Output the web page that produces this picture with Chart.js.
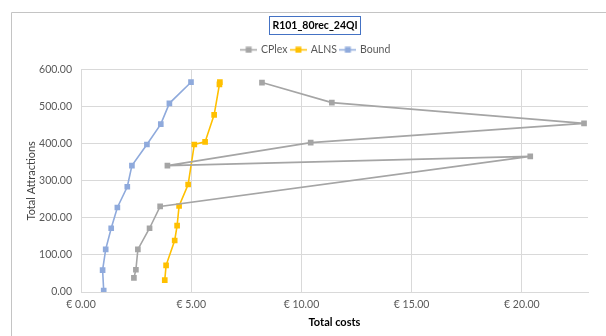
<!DOCTYPE html>
<html>
<head>
<meta charset="utf-8">
<script src="https://cdn.jsdelivr.net/npm/chart.js@4/dist/chart.umd.min.js"></script>
<style>
html,body{margin:0;padding:0;background:#fff;}
#wrap{width:606px;height:336px;position:relative;}
</style>
</head>
<body>
<div id="wrap"><canvas id="c" width="606" height="336"></canvas></div>
<script>
// ---- data ----
const chartTitle = 'R101_80rec_24QI';
const seriesNames = ['CPlex', 'ALNS', 'Bound'];
const cplexCost = [8.21, 11.38, 22.82, 10.42, 3.92, 20.38, 3.59, 3.11, 2.58, 2.49, 2.40];
const cplexAttr = [565, 511, 455, 403, 341, 366, 231, 172, 115, 60, 38];
const alnsCost = [6.30, 6.28, 6.04, 5.63, 5.14, 4.86, 4.45, 4.36, 4.25, 3.86, 3.80];
const alnsAttr = [566, 560, 478, 405, 398, 290, 232, 179, 139, 72, 32];
const boundCost = [4.99, 4.01, 3.62, 2.99, 2.31, 2.10, 1.65, 1.37, 1.12, 0.98, 1.03];
const boundAttr = [566, 509, 453, 398, 341, 284, 228, 172, 115, 59, 4];
const xTickValues = [0, 5, 10, 15, 20];
const yTickValues = [0, 100, 200, 300, 400, 500, 600];

const colors = ['#a5a5a5', '#ffc000', '#8faadc'];
const FONT = 'Lato, "Open Sans", "Liberation Sans", sans-serif';
const TITLE_SIZE = 10.5;

function toPts(xs, ys){ return xs.map((x,i)=>({x:x, y:ys[i]})); }

function legendIcon(color){
  const cv = document.createElement('canvas');
  cv.width = 17; cv.height = 7;
  const g = cv.getContext('2d');
  g.strokeStyle = color; g.lineWidth = 1.5;
  g.beginPath(); g.moveTo(0, 3.5); g.lineTo(17, 3.5); g.stroke();
  g.fillStyle = color; g.fillRect(5.5, 0.5, 6, 6);
  return cv;
}

const allX = [cplexCost, alnsCost, boundCost];
const allY = [cplexAttr, alnsAttr, boundAttr];
const datasets = seriesNames.map((n,i)=>({
  label: n,
  data: toPts(allX[i], allY[i]),
  showLine: true,
  borderColor: colors[i],
  backgroundColor: colors[i],
  borderWidth: 1.6,
  pointStyle: 'rect',
  pointRadius: 4,
  pointHoverRadius: 4,
  pointBorderWidth: 0,
  tension: 0
}));

const TITLE_CX = 315;
const LEGEND_CX = 316;
const TITLE_PAD_TOP = 19;

const borderPlugin = {
  id: 'frame',
  beforeDraw(chart){
    const ctx = chart.ctx;
    ctx.save();
    ctx.fillStyle = '#fff';
    ctx.fillRect(0,0,chart.width,chart.height);
    ctx.strokeStyle = '#c4c4c4';
    ctx.lineWidth = 1;
    ctx.beginPath();
    ctx.moveTo(11.5, chart.height + 2);
    ctx.lineTo(11.5, 12.5);
    ctx.lineTo(chart.width + 2, 12.5);
    ctx.stroke();
    ctx.restore();
  },
  afterLayout(chart){
    const t = chart.titleBlock;
    if (t) { t.left = TITLE_CX - 200; t.right = TITLE_CX + 200; }
    const l = chart.legend;
    if (l) { l.left = LEGEND_CX - 220; l.right = LEGEND_CX + 220; }
  },
  afterDraw(chart){
    const t = chart.titleBlock;
    if (!t) return;
    const ctx = chart.ctx;
    ctx.save();
    ctx.font = 'bold ' + TITLE_SIZE + 'px ' + FONT;
    const w = ctx.measureText(chartTitle).width;
    const cx = (t.left + t.right) / 2;
    const cy = t.top + TITLE_PAD_TOP + TITLE_SIZE * 0.6;
    ctx.strokeStyle = '#4472c4';
    ctx.lineWidth = 1;
    ctx.strokeRect(Math.round(cx - w/2 - 3) + 0.5, Math.round(cy - 9.5) + 0.5, Math.round(w + 6), 18);
    ctx.restore();
  }
};

const legendFitPlugin = {
  id: 'legendFit',
  beforeInit(chart){
    const orig = chart.legend.fit;
    chart.legend.fit = function(){
      orig.call(this);
      this.height = 29;
    };
  }
};

new Chart(document.getElementById('c'), {
  type: 'scatter',
  data: { datasets },
  plugins: [borderPlugin, legendFitPlugin],
  options: {
    responsive: false,
    animation: false,
    events: [],
    layout: { padding: { left: 20, right: 18, top: 0, bottom: 0 } },
    plugins: {
      tooltip: { enabled: false },
      title: {
        display: true,
        text: chartTitle,
        color: '#000',
        font: { family: FONT, size: TITLE_SIZE, weight: 'bold' },
        padding: { top: TITLE_PAD_TOP, bottom: 9 }
      },
      legend: {
        display: true,
        labels: {
          color: '#595959',
          font: { family: FONT, size: 10.5 },
          usePointStyle: true,
          pointStyleWidth: 14,
          padding: 4,
          generateLabels(chart){
            return chart.data.datasets.map((d,i)=>({
              text: d.label,
              fillStyle: d.borderColor,
              strokeStyle: d.borderColor,
              fontColor: '#595959',
              pointStyle: legendIcon(d.borderColor),
              lineWidth: 0,
              hidden: false,
              datasetIndex: i
            }));
          }
        }
      }
    },
    scales: {
      x: {
        type: 'linear',
        min: 0, max: 23,
        bounds: 'data',
        afterFit(s){ s.height = 44; },
        grid: { color: '#d9d9d9', drawTicks: false, lineWidth: 1 },
        border: { color: '#d9d9d9' },
        afterBuildTicks(s){ s.ticks = xTickValues.map(v=>({value:v})); },
        ticks: {
          color: '#595959',
          font: { family: FONT, size: 10.5 },
          padding: 6,
          maxRotation: 0,
          callback: v => '€ ' + Number(v).toFixed(2)
        },
        title: {
          display: true,
          text: 'Total costs',
          color: '#000',
          font: { family: FONT, size: 11, weight: 'bold' },
          padding: { top: 4, bottom: 7 }
        }
      },
      y: {
        type: 'linear',
        min: 0, max: 600,
        bounds: 'data',
        afterFit(s){ s.width = 61; },
        grid: { color: '#d9d9d9', drawTicks: false, lineWidth: 1 },
        border: { color: '#d9d9d9' },
        afterBuildTicks(s){ s.ticks = yTickValues.map(v=>({value:v})); },
        ticks: {
          color: '#595959',
          font: { family: FONT, size: 10.5 },
          padding: 9,
          callback: v => Number(v).toFixed(2)
        },
        title: {
          display: true,
          text: 'Total Attractions',
          color: '#404040',
          font: { family: FONT, size: 11 },
          padding: { top: 4.5, bottom: 0 }
        }
      }
    }
  }
});
</script>
</body>
</html>
